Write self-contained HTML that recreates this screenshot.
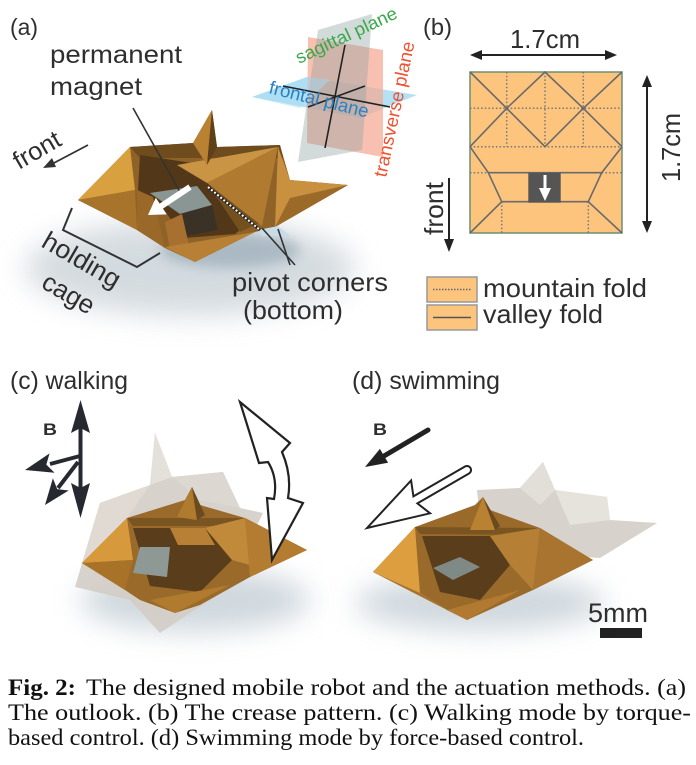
<!DOCTYPE html>
<html><head><meta charset="utf-8"><style>
html,body{margin:0;padding:0;background:#fff;}
svg{display:block;}
.l{font-family:"Liberation Sans",Arial,sans-serif;fill:#2e2e2e;}
.c{font-family:"Liberation Serif","Times New Roman",serif;fill:#111;font-size:23px;}
</style></head><body>
<svg width="696" height="765" viewBox="0 0 696 765" xmlns="http://www.w3.org/2000/svg">
<defs>
<filter id="bl" x="-50%" y="-50%" width="200%" height="200%"><feGaussianBlur stdDeviation="14"/></filter>
<filter id="bs" x="-50%" y="-50%" width="200%" height="200%"><feGaussianBlur stdDeviation="6"/></filter>
</defs>
<rect width="696" height="765" fill="#fff"/>

<!-- ===== (a) ===== -->
<ellipse cx="190" cy="268" rx="165" ry="48" fill="#c3ccd3" opacity="0.7" filter="url(#bl)"/>
<ellipse cx="230" cy="250" rx="70" ry="18" fill="#8fa3b0" opacity="0.6" filter="url(#bs)"/>
<!-- robot a base -->
<polygon points="78,200 130,147 193,143 212,110 217,147 280,145 290,180 348,185 275,227 255,232 195,262 165,248 137,230" fill="#8f6228"/>
<polygon points="130,147 193,143 217,147 280,145 283,158 140,158" fill="#6e4c1e"/>
<polygon points="78,200 130,147 135,190" fill="#d9a040"/>
<polygon points="78,200 135,190 137,230" fill="#a8732a"/>
<polygon points="140,155 205,165 258,215 235,234 185,238 160,205 138,190" fill="#523819"/>
<polygon points="205,165 262,222 240,232 212,190" fill="#75501f"/>
<polygon points="150,193 197,186 212,205 180,214" fill="#8a9693"/>
<polygon points="180,214 212,205 218,230 186,236" fill="#3a3226"/>
<polygon points="137,190 153,197 165,248 137,230" fill="#9a6828"/>
<polygon points="165,222 182,214 190,250 170,250" fill="#a87030"/>
<polygon points="165,247 255,232 195,262" fill="#b88034"/>
<polygon points="177,165 278,147 207,183" fill="#c99444"/>
<polygon points="207,183 278,147 262,226" fill="#b07a30"/>
<polygon points="193,143 212,110 207,165" fill="#b98232"/>
<polygon points="212,110 217,147 207,165" fill="#5e4019"/>
<polygon points="278,147 290,180 348,185 275,227" fill="#c99040"/>
<polygon points="290,198 348,185 275,227" fill="#9c6a28"/>
<polygon points="258,230 278,226 290,236 262,236" fill="#c8dbe6"/>
<!-- pointer & arrow -->
<line x1="133" y1="108" x2="180" y2="192" stroke="#333" stroke-width="1.6"/>
<polygon points="188.35,184.5 159.65,203.6 155.8,197.8 148,215 166.8,214.4 162.95,208.6 191.65,189.5" fill="#fff"/>
<line x1="208" y1="187" x2="260" y2="230" stroke="#222" stroke-width="3"/>
<line x1="208" y1="187" x2="260" y2="230" stroke="#fff" stroke-width="2" stroke-dasharray="2 2"/>
<line x1="262" y1="228" x2="295" y2="265" stroke="#333" stroke-width="1.6"/>
<line x1="278" y1="229" x2="290" y2="265" stroke="#333" stroke-width="1.6"/>
<!-- front arrow -->
<line x1="88" y1="145" x2="52" y2="164" stroke="#333" stroke-width="1.8"/>
<polygon points="43,168 52,158 56,167" fill="#333"/>
<!-- bracket -->
<polyline points="72,208 63,230 137,267 160,253" fill="none" stroke="#333" stroke-width="2"/>
<!-- labels a -->
<text class="l" x="10" y="35" font-size="23" textLength="28" lengthAdjust="spacingAndGlyphs">(a)</text>
<text class="l" x="50" y="63" font-size="25" textLength="132" lengthAdjust="spacingAndGlyphs">permanent</text>
<text class="l" x="50" y="95" font-size="25" textLength="92" lengthAdjust="spacingAndGlyphs">magnet</text>
<text class="l" x="232" y="291" font-size="26" textLength="156" lengthAdjust="spacingAndGlyphs">pivot corners</text>
<text class="l" x="243" y="319" font-size="26" textLength="100" lengthAdjust="spacingAndGlyphs">(bottom)</text>
<text class="l" font-size="25" transform="translate(19,170) rotate(-30)" textLength="51" lengthAdjust="spacingAndGlyphs">front</text>
<text class="l" font-size="26" transform="translate(40,246) rotate(30)" textLength="86" lengthAdjust="spacingAndGlyphs">holding</text>
<text class="l" font-size="26" transform="translate(40,287) rotate(30)" textLength="56" lengthAdjust="spacingAndGlyphs">cage</text>

<!-- planes -->
<polygon points="252,97 307,77 417,95 360,118" fill="#a8dcf2" opacity="0.85"/>
<polygon points="308,37 383,50 383,157 307,143" fill="#f5a892" opacity="0.72"/>
<polygon points="318,30 372,14 362,150 298,162" fill="#8fa3a3" opacity="0.4"/>
<polygon points="252,97 307,77 330,80 300,108" fill="#a8dcf2" opacity="0.5"/>
<line x1="345" y1="45" x2="325" y2="148" stroke="#222" stroke-width="1.6"/>
<line x1="283" y1="86" x2="390" y2="107" stroke="#222" stroke-width="1.6"/>
<line x1="308" y1="107" x2="365" y2="86" stroke="#222" stroke-width="1.6"/>
<text font-family="Liberation Sans,Arial,sans-serif" fill="#3aa84a" font-size="18" transform="translate(299,64) rotate(-25)" textLength="110" lengthAdjust="spacingAndGlyphs">sagittal plane</text>
<text font-family="Liberation Sans,Arial,sans-serif" fill="#2a80c4" font-size="18.5" transform="translate(268,93) rotate(14)" textLength="102" lengthAdjust="spacingAndGlyphs">frontal plane</text>
<text font-family="Liberation Sans,Arial,sans-serif" fill="#f0502f" font-size="18.5" transform="translate(386,178) rotate(-78)" textLength="138" lengthAdjust="spacingAndGlyphs">transverse plane</text>

<!-- ===== (b) ===== -->
<text class="l" x="423" y="35" font-size="23" textLength="29" lengthAdjust="spacingAndGlyphs">(b)</text>
<text class="l" x="510" y="48" font-size="26" textLength="70" lengthAdjust="spacingAndGlyphs">1.7cm</text>
<line x1="478" y1="55" x2="609" y2="55" stroke="#222" stroke-width="2"/>
<polygon points="470,55 482,50 482,60" fill="#222"/>
<polygon points="617,55 605,50 605,60" fill="#222"/>
<line x1="647" y1="85" x2="647" y2="223" stroke="#222" stroke-width="2"/>
<polygon points="647,75 642,87 652,87" fill="#222"/>
<polygon points="647,233 642,221 652,221" fill="#222"/>
<text class="l" font-size="26" transform="translate(680,182) rotate(-90)" textLength="69" lengthAdjust="spacingAndGlyphs">1.7cm</text>
<text class="l" font-size="26" transform="translate(443,235) rotate(-90)" textLength="53" lengthAdjust="spacingAndGlyphs">front</text>
<line x1="449" y1="178" x2="449" y2="242" stroke="#222" stroke-width="2"/>
<polygon points="449,252 444,239 454,239" fill="#222"/>
<!-- crease square -->
<rect x="470" y="72" width="152" height="161" fill="#fdc47e" stroke="#6f8f70" stroke-width="1.5"/>
<g stroke="#777" stroke-width="1.5" stroke-dasharray="1.5 2.2" fill="none">
<line x1="506.7" y1="72" x2="506.7" y2="146.7"/>
<line x1="545" y1="72" x2="545" y2="146.7"/>
<line x1="583.3" y1="72" x2="583.3" y2="146.7"/>
<line x1="470" y1="108.3" x2="622" y2="108.3"/>
<line x1="470" y1="146.7" x2="622" y2="146.7"/>
<line x1="470" y1="172.7" x2="488.3" y2="172.7"/>
<line x1="601.7" y1="172.7" x2="622" y2="172.7"/>
<line x1="501.7" y1="201.7" x2="501.7" y2="233"/>
<line x1="588.3" y1="201.7" x2="588.3" y2="233"/>
</g>
<g stroke="#6a6a6a" stroke-width="1.6" fill="none">
<polyline points="470,146.7 506.7,108.3 545,72 583.3,108.3 622,146.7"/>
<polyline points="470,72 506.7,108.3 545,146.7 583.3,108.3 622,72"/>
<polyline points="470,146.7 488.3,172.7 501.7,201.7 470,233"/>
<polyline points="622,146.7 601.7,172.7 588.3,201.7 622,233"/>
<line x1="488.3" y1="172.7" x2="601.7" y2="172.7"/>
<line x1="501.7" y1="201.7" x2="588.3" y2="201.7"/>
</g>
<rect x="528.3" y="172.7" width="32.4" height="30" fill="#555"/>
<line x1="545" y1="175" x2="545" y2="190" stroke="#fff" stroke-width="3"/>
<polygon points="545,201 539,188 551,188" fill="#fff"/>
<!-- legend -->
<rect x="427" y="277" width="50" height="25" fill="#fdc47e" stroke="#999" stroke-width="1.5"/>
<line x1="433" y1="289.5" x2="471" y2="289.5" stroke="#666" stroke-width="1.5" stroke-dasharray="1.5 1.5"/>
<rect x="427" y="305" width="50" height="25" fill="#fdc47e" stroke="#999" stroke-width="1.5"/>
<line x1="433" y1="317.5" x2="471" y2="317.5" stroke="#555" stroke-width="1.6"/>
<text class="l" x="483" y="297" font-size="26" textLength="164" lengthAdjust="spacingAndGlyphs">mountain fold</text>
<text class="l" x="483" y="323" font-size="26" textLength="120" lengthAdjust="spacingAndGlyphs">valley fold</text>

<!-- ===== (c) ===== -->
<text class="l" x="10" y="389" font-size="25" textLength="118" lengthAdjust="spacingAndGlyphs">(c) walking</text>
<text class="l" x="43" y="435" font-size="17" font-weight="bold" textLength="14" lengthAdjust="spacingAndGlyphs">B</text>
<ellipse cx="195" cy="600" rx="115" ry="32" fill="#a9b8c2" opacity="0.55" filter="url(#bl)"/>
<!-- ghost -->
<polygon points="75,587 100,503 150,485 155,433 172,477 223,472 240,508 263,513 250,540 240,580 160,633 130,600" fill="#d3cdc5" opacity="0.9"/>
<polygon points="150,485 155,433 172,477" fill="#e4e0da"/>
<polygon points="172,477 223,472 240,508 200,500" fill="#dcd7d0"/>
<polygon points="100,503 150,485 127,518 82,563" fill="#e0dad2"/>
<!-- gold c -->
<polygon points="82,563 127,518 185,500 192,487 200,505 245,518 307,550 250,577 200,605 175,613 140,600 125,590" fill="#9a6a2a"/>
<polygon points="82,563 127,518 133,560" fill="#d69a3c"/>
<polygon points="82,563 133,560 125,590" fill="#a87228"/>
<polygon points="133,528 205,528 232,560 200,592 150,586" fill="#5a3d1a"/>
<polygon points="127,518 245,518 240,526 133,526" fill="#7a5522"/>
<polygon points="140,547 170,547 167,577 133,573" fill="#8e9895"/>
<polygon points="205,528 245,518 250,565 232,560" fill="#c08a3a"/>
<polygon points="170,528 205,528 215,545 178,545" fill="#b78035"/>
<polygon points="245,518 307,550 250,577" fill="#b47c30"/>
<polygon points="150,600 230,585 175,613" fill="#b07a2f"/>
<polygon points="177,517 192,487 197,520" fill="#b07a2f"/>
<polygon points="192,487 197,520 205,515" fill="#6a4a1e"/>
<!-- black arrows c -->
<line x1="80.5" y1="425" x2="80.5" y2="490" stroke="#262a30" stroke-width="4"/>
<polygon points="80.5,400 90,433 80.5,428 71,433" fill="#262a30"/>
<polygon points="80.5,518 90,483 80.5,488 71,483" fill="#262a30"/>
<line x1="80" y1="456" x2="50" y2="464" stroke="#262a30" stroke-width="4"/>
<polygon points="25,470 54.6,472.8 46.3,464.6 49.6,453.4" fill="#262a30"/>
<line x1="78" y1="462" x2="58" y2="488" stroke="#262a30" stroke-width="4"/>
<polygon points="45,505 68.7,490.5 57.2,489.1 52.9,478.3" fill="#262a30"/>
<!-- white curved arrow -->
<path d="M240,402 L290,443 L282,452 Q292,475 288,498 L303,503 L272,560 L267,498 L274,499 Q278,478 268,462 L259,463 Z" fill="#fff" stroke="#222" stroke-width="2.2" stroke-linejoin="miter"/>

<!-- ===== (d) ===== -->
<text class="l" x="352" y="389" font-size="25" textLength="148" lengthAdjust="spacingAndGlyphs">(d) swimming</text>
<text class="l" x="373" y="435" font-size="17" font-weight="bold" textLength="14" lengthAdjust="spacingAndGlyphs">B</text>
<line x1="428" y1="430" x2="384" y2="456" stroke="#222" stroke-width="5" stroke-linecap="round"/>
<polygon points="365,467 388.1,462.7 379.9,448.9" fill="#222"/>
<path d="M367,528 L430.1,513.3 L417.4,503.4 L469,473.5 A4,4 0 0 0 465,466.5 L413.4,496.4 L411.1,480.5 Z" fill="#fff" stroke="#222" stroke-width="2"/>
<ellipse cx="480" cy="603" rx="125" ry="28" fill="#a9b8c2" opacity="0.55" filter="url(#bl)"/>
<!-- ghost d -->
<polygon points="477,490 520,488 543,462 555,490 607,497 610,520 657,523 600,558 555,555 540,540 480,520" fill="#d3cdc5" opacity="0.9"/>
<polygon points="520,488 543,462 555,490 540,505" fill="#e2ded8"/>
<polygon points="555,490 607,497 610,520 570,525" fill="#e6e2dc"/>
<!-- gold d -->
<polygon points="373,572 415,527 475,505 483,497 490,510 540,528 593,560 533,590 467,620 447,610 420,593" fill="#9a6a2a"/>
<polygon points="373,572 415,527 420,593" fill="#dc9e3e"/>
<polygon points="373,572 420,593 447,610" fill="#a8702a"/>
<polygon points="422,536 490,536 510,565 480,600 440,592" fill="#5a3d1a"/>
<polygon points="415,527 540,528 535,535 420,534" fill="#7a5522"/>
<polygon points="433,568 460,557 480,567 453,580" fill="#7f8985"/>
<polygon points="490,536 540,528 533,590 510,565" fill="#b58035"/>
<polygon points="540,528 593,560 533,590" fill="#a87430"/>
<polygon points="447,610 520,590 467,620" fill="#b27a30"/>
<polygon points="470,530 483,497 495,530" fill="#b98232"/>
<polygon points="483,497 495,530 500,526" fill="#6a4a1e"/>
<!-- scale -->
<text class="l" x="588" y="622" font-size="27" textLength="60" lengthAdjust="spacingAndGlyphs">5mm</text>
<rect x="600" y="628" width="42" height="10" fill="#222"/>

<!-- ===== caption ===== -->
<text class="c" x="8" y="695" font-weight="bold" textLength="68" lengthAdjust="spacingAndGlyphs">Fig. 2:</text>
<text class="c" x="86" y="695" textLength="600" lengthAdjust="spacingAndGlyphs">The designed mobile robot and the actuation methods. (a)</text>
<text class="c" x="8" y="720" textLength="683" lengthAdjust="spacingAndGlyphs">The outlook. (b) The crease pattern. (c) Walking mode by torque-</text>
<text class="c" x="8" y="745" textLength="576" lengthAdjust="spacingAndGlyphs">based control. (d) Swimming mode by force-based control.</text>
</svg>
</body></html>
